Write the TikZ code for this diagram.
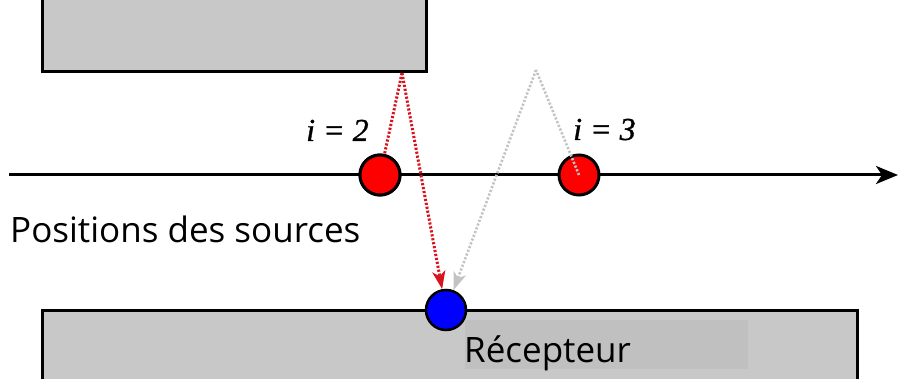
\documentclass[tikz,border=0pt]{standalone}
\usepackage{fontspec}
\setmainfont{Liberation Serif}
\newfontface\idxfont{Liberation Serif Italic}[FakeBold=1]
\newfontfamily\uifont{Open Sans}
\usetikzlibrary{arrows.meta}
\definecolor{boxgray}{RGB}{200,200,200}
\definecolor{labgray}{RGB}{192,192,192}
\definecolor{raygray}{RGB}{195,195,195}
\definecolor{rayred}{RGB}{215,20,30}
\tikzset{
  source/.style={circle, draw=black, line width=3pt, fill=red, minimum size=40pt, inner sep=0pt},
  receiver/.style={circle, draw=black, line width=2.5pt, fill=blue, minimum size=40pt, inner sep=0pt},
  redray/.style={draw=rayred, line width=3pt, dash pattern=on 2.2pt off 1.8pt},
  grayray/.style={draw=raygray, line width=2.6pt, dash pattern=on 2.2pt off 1.8pt},
  raytip/.style={-{Stealth[length=18pt, width=13pt, inset=5pt]}},
  idx/.style={font=\idxfont\fontsize{32}{32}\selectfont, anchor=base west, inner sep=0pt},
  uitext/.style={font=\uifont\fontsize{35}{35}\selectfont, anchor=base west, inner sep=0pt},
}
\begin{document}
\begin{tikzpicture}[x=1pt, y=-1pt]
\useasboundingbox (0,0) rectangle (905,379);
% walls
\fill[boxgray] (42,-5) rectangle (426,72);
\draw[line width=3pt] (42,-5) -- (42,72) -- (426,72) -- (426,-5);
\fill[boxgray] (42,311) rectangle (857,385);
\draw[line width=3pt] (42,385) -- (42,311) -- (857,311) -- (857,385);
\fill[labgray] (465,320) rectangle (748,369);
% axis
\coordinate (a0) at (9,175);
\coordinate (a1) at (898,175);
\draw[line width=3pt, -{Stealth[length=22pt, width=18pt, inset=6pt]}] (a0) -- (a1);
% reflection points
\coordinate (r2) at (402,73);
\coordinate (r3) at (536,70);
% nodes
\node[source] (s2) at (380,175) {};
\node[source] (s3) at (579,175) {};
\node[receiver] (rec) at (446,310) {};
% red rays
\draw[redray] (r2) -- (s2);
\draw[redray, raytip, rayred] (r2) -- (rec);
\node[source] at (s2) {};
% gray rays
\draw[grayray] (s3.center) -- (r3);
\draw[grayray, raytip, raygray] (r3) -- (rec);
% labels
\node[idx] (l2) at (306,141) {i = 2};
\node[idx] (l3) at (573,140) {i = 3};
\node[uitext] (pos) at (10,243) {Positions des sources};
\node[uitext] (rlab) at (464,362) {Récepteur};
\end{tikzpicture}
\end{document}
